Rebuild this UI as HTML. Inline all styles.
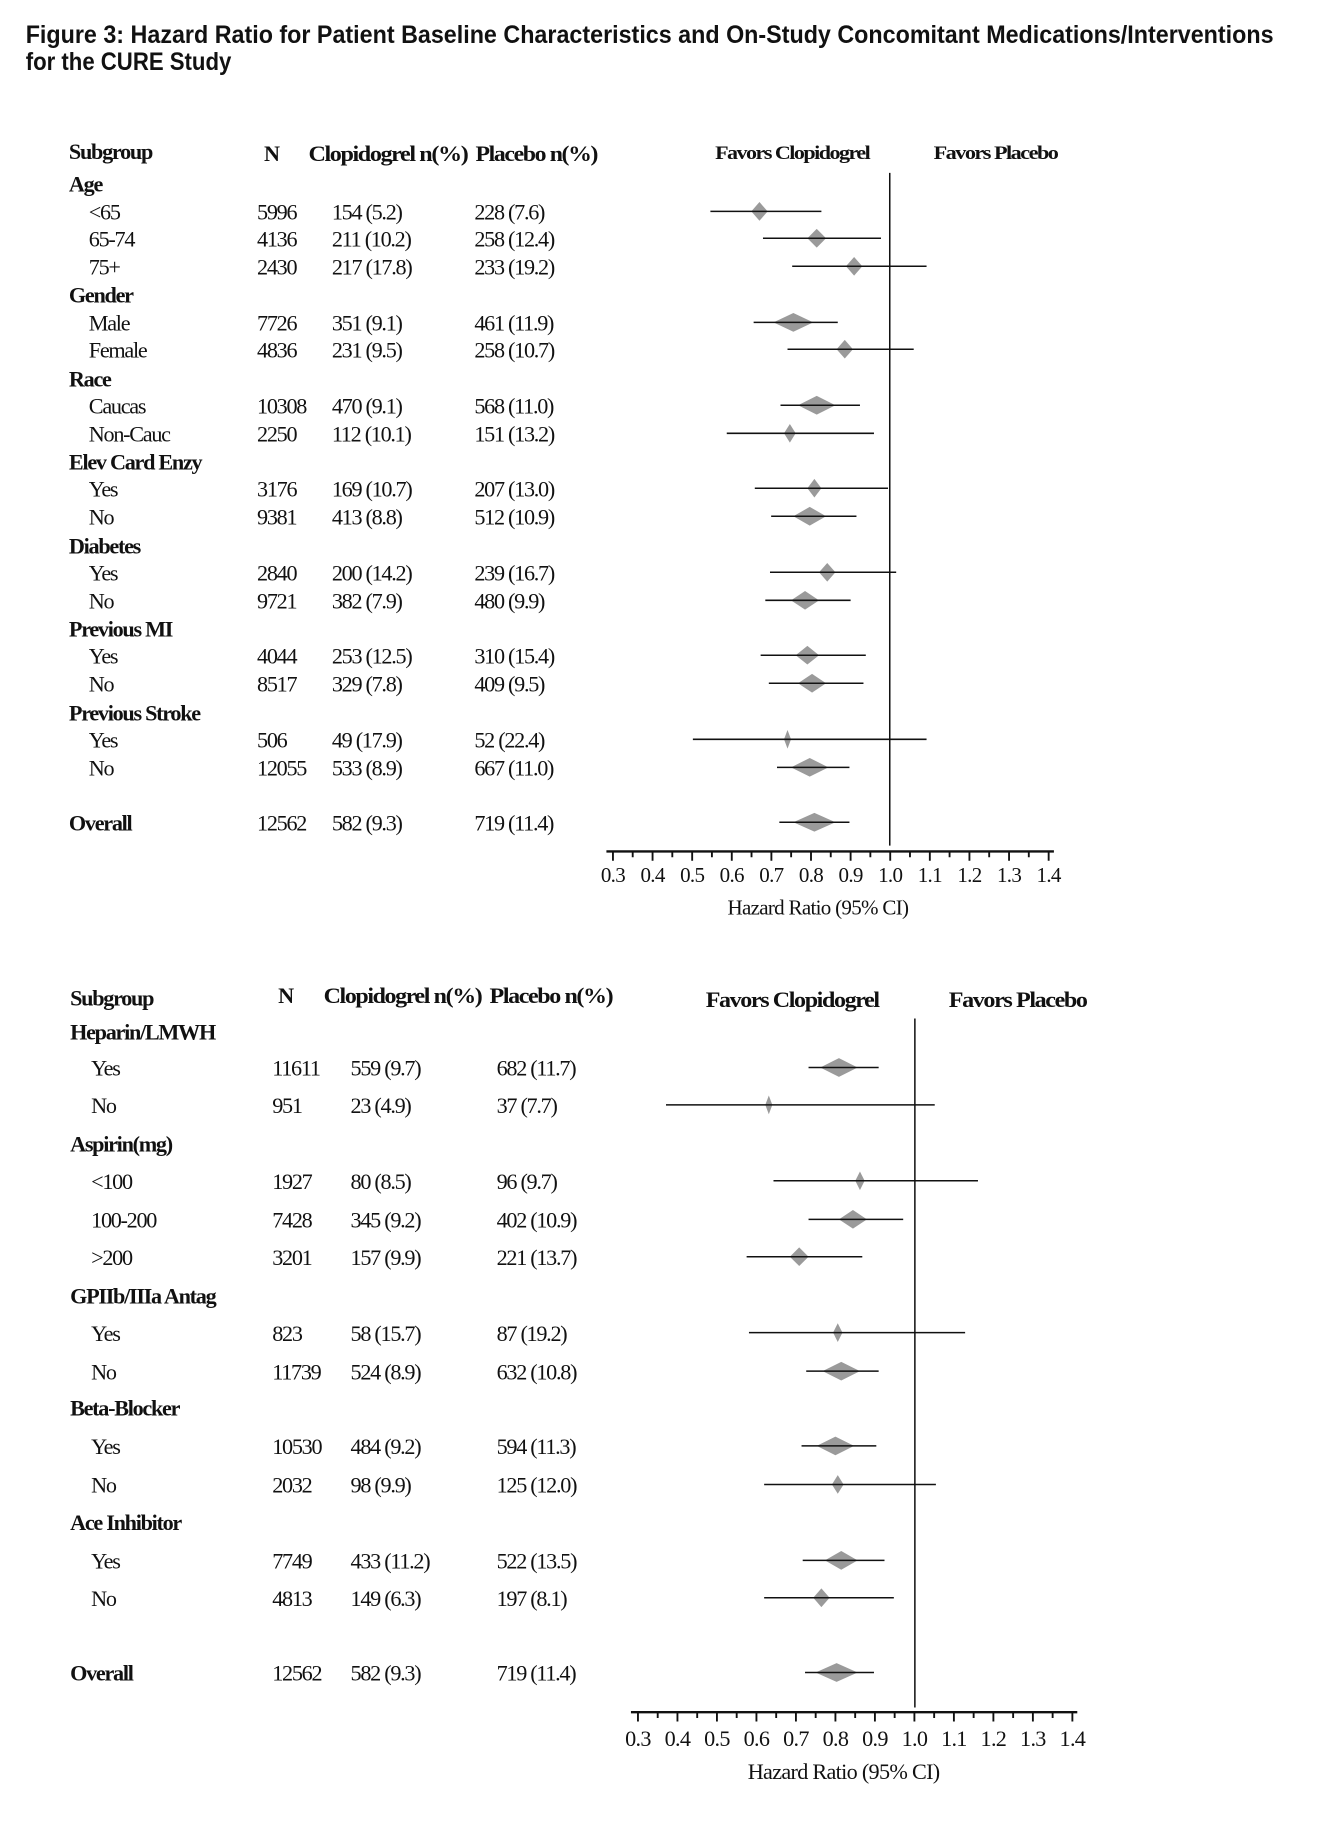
<!DOCTYPE html>
<html><head><meta charset="utf-8"><style>
html,body{margin:0;padding:0;background:#fff;width:1332px;height:1836px;overflow:hidden}
svg{display:block}
.t{font-family:"Liberation Serif",serif;font-size:19px;letter-spacing:-1.1px;fill:#111}
.b{font-weight:bold}
.ti{font-family:"Liberation Sans",sans-serif;font-weight:bold;font-size:21px;fill:#111}
.tk{font-family:"Liberation Serif",serif;font-size:18px;fill:#111;text-anchor:middle;letter-spacing:-0.6px}
.d{fill:#9a9a9a}
.l{stroke:#111;stroke-width:1.3}
</style></head><body>
<svg width="1332" height="1836" viewBox="0 0 1140 1572" preserveAspectRatio="none" xmlns="http://www.w3.org/2000/svg">
<text class="ti" x="22" y="37" textLength="1068" lengthAdjust="spacingAndGlyphs">Figure 3:  Hazard Ratio for Patient Baseline Characteristics and On-Study Concomitant Medications/Interventions</text>
<text class="ti" x="22" y="60" textLength="176" lengthAdjust="spacingAndGlyphs">for the CURE Study</text>

<!-- TOP PANEL -->
<g class="t">
<text class="b" x="59" y="136">Subgroup</text>
<text class="b" x="226" y="138">N</text>
<text class="b" x="264" y="138" textLength="136" lengthAdjust="spacingAndGlyphs">Clopidogrel n(%)</text>
<text class="b" x="407" y="138" textLength="104" lengthAdjust="spacingAndGlyphs">Placebo n(%)</text>
<text class="b" x="612" y="136" font-size="16" textLength="132" lengthAdjust="spacingAndGlyphs">Favors Clopidogrel</text>
<text class="b" x="799" y="136" font-size="16" textLength="106" lengthAdjust="spacingAndGlyphs">Favors Placebo</text>

<text class="b" x="59" y="164">Age</text>
<text x="76" y="188">&lt;65</text><text x="220" y="188">5996</text><text x="284" y="188">154 (5.2)</text><text x="406" y="188">228 (7.6)</text>
<text x="76" y="211">65-74</text><text x="220" y="211">4136</text><text x="284" y="211">211 (10.2)</text><text x="406" y="211">258 (12.4)</text>
<text x="76" y="235">75+</text><text x="220" y="235">2430</text><text x="284" y="235">217 (17.8)</text><text x="406" y="235">233 (19.2)</text>
<text class="b" x="59" y="259">Gender</text>
<text x="76" y="283">Male</text><text x="220" y="283">7726</text><text x="284" y="283">351 (9.1)</text><text x="406" y="283">461 (11.9)</text>
<text x="76" y="306">Female</text><text x="220" y="306">4836</text><text x="284" y="306">231 (9.5)</text><text x="406" y="306">258 (10.7)</text>
<text class="b" x="59" y="331">Race</text>
<text x="76" y="354">Caucas</text><text x="220" y="354">10308</text><text x="284" y="354">470 (9.1)</text><text x="406" y="354">568 (11.0)</text>
<text x="76" y="378">Non-Cauc</text><text x="220" y="378">2250</text><text x="284" y="378">112 (10.1)</text><text x="406" y="378">151 (13.2)</text>
<text class="b" x="59" y="402">Elev Card Enzy</text>
<text x="76" y="425">Yes</text><text x="220" y="425">3176</text><text x="284" y="425">169 (10.7)</text><text x="406" y="425">207 (13.0)</text>
<text x="76" y="449">No</text><text x="220" y="449">9381</text><text x="284" y="449">413 (8.8)</text><text x="406" y="449">512 (10.9)</text>
<text class="b" x="59" y="474">Diabetes</text>
<text x="76" y="497">Yes</text><text x="220" y="497">2840</text><text x="284" y="497">200 (14.2)</text><text x="406" y="497">239 (16.7)</text>
<text x="76" y="521">No</text><text x="220" y="521">9721</text><text x="284" y="521">382 (7.9)</text><text x="406" y="521">480 (9.9)</text>
<text class="b" x="59" y="545">Previous MI</text>
<text x="76" y="568">Yes</text><text x="220" y="568">4044</text><text x="284" y="568">253 (12.5)</text><text x="406" y="568">310 (15.4)</text>
<text x="76" y="592">No</text><text x="220" y="592">8517</text><text x="284" y="592">329 (7.8)</text><text x="406" y="592">409 (9.5)</text>
<text class="b" x="59" y="617">Previous Stroke</text>
<text x="76" y="640">Yes</text><text x="220" y="640">506</text><text x="284" y="640">49 (17.9)</text><text x="406" y="640">52 (22.4)</text>
<text x="76" y="664">No</text><text x="220" y="664">12055</text><text x="284" y="664">533 (8.9)</text><text x="406" y="664">667 (11.0)</text>
<text class="b" x="59" y="711">Overall</text><text x="220" y="711">12562</text><text x="284" y="711">582 (9.3)</text><text x="406" y="711">719 (11.4)</text>
</g>
<g>
<polygon class="d" points="643,181 650,173 657,181 650,189"/><line class="l" x1="608" y1="181" x2="703" y2="181"/>
<polygon class="d" points="691,204 699,196 707,204 699,212"/><line class="l" x1="653" y1="204" x2="754" y2="204"/>
<polygon class="d" points="724,228 731,220 738,228 731,236"/><line class="l" x1="678" y1="228" x2="793" y2="228"/>
<polygon class="d" points="662,276 679,268 696,276 679,284"/><line class="l" x1="645" y1="276" x2="717" y2="276"/>
<polygon class="d" points="716,299 723,291 730,299 723,307"/><line class="l" x1="674" y1="299" x2="782" y2="299"/>
<polygon class="d" points="683,347 699,339 715,347 699,355"/><line class="l" x1="668" y1="347" x2="736" y2="347"/>
<polygon class="d" points="671,371 676,363 681,371 676,379"/><line class="l" x1="622" y1="371" x2="748" y2="371"/>
<polygon class="d" points="691,418 697,410 703,418 697,426"/><line class="l" x1="646" y1="418" x2="760" y2="418"/>
<polygon class="d" points="679,442 693,434 707,442 693,450"/><line class="l" x1="660" y1="442" x2="733" y2="442"/>
<polygon class="d" points="701,490 708,482 715,490 708,498"/><line class="l" x1="659" y1="490" x2="767" y2="490"/>
<polygon class="d" points="677,514 689,506 701,514 689,522"/><line class="l" x1="655" y1="514" x2="728" y2="514"/>
<polygon class="d" points="681,561 691,553 701,561 691,569"/><line class="l" x1="651" y1="561" x2="741" y2="561"/>
<polygon class="d" points="683,585 695,577 707,585 695,593"/><line class="l" x1="658" y1="585" x2="739" y2="585"/>
<polygon class="d" points="671,633 674,625 677,633 674,641"/><line class="l" x1="593" y1="633" x2="793" y2="633"/>
<polygon class="d" points="677,657 693,649 709,657 693,665"/><line class="l" x1="665" y1="657" x2="727" y2="657"/>
<polygon class="d" points="679,704 697,696 715,704 697,712"/><line class="l" x1="667" y1="704" x2="727" y2="704"/>
<line x1="761.5" y1="148" x2="761.5" y2="724" stroke="#111" stroke-width="1.3"/>
<line x1="519" y1="729" x2="902" y2="729" stroke="#111" stroke-width="2"/>
<path stroke="#111" stroke-width="1.6" fill="none" d="M524.6 729v8M558.5 729v8M592.4 729v8M626.3 729v8M660.2 729v8M694.1 729v8M728 729v8M761.9 729v8M795.8 729v8M829.7 729v8M863.6 729v8M897.5 729v8M541.5 729v5M575.4 729v5M609.3 729v5M643.2 729v5M677.1 729v5M711 729v5M744.9 729v5M778.8 729v5M812.7 729v5M846.6 729v5M880.5 729v5"/>
<g class="tk">
<text x="524.6" y="755">0.3</text><text x="558.5" y="755">0.4</text><text x="592.4" y="755">0.5</text><text x="626.3" y="755">0.6</text><text x="660.2" y="755">0.7</text><text x="694.1" y="755">0.8</text><text x="728" y="755">0.9</text><text x="761.9" y="755">1.0</text><text x="795.8" y="755">1.1</text><text x="829.7" y="755">1.2</text><text x="863.6" y="755">1.3</text><text x="897.5" y="755">1.4</text>
<text x="700" y="783">Hazard Ratio (95% CI)</text>
</g>
</g>

<!-- BOTTOM PANEL -->
<g class="t">
<text class="b" x="60" y="861">Subgroup</text>
<text class="b" x="238" y="859">N</text>
<text class="b" x="277" y="859" textLength="135" lengthAdjust="spacingAndGlyphs">Clopidogrel n(%)</text>
<text class="b" x="419" y="859" textLength="105" lengthAdjust="spacingAndGlyphs">Placebo n(%)</text>
<text class="b" x="604" y="862" textLength="148" lengthAdjust="spacingAndGlyphs">Favors Clopidogrel</text>
<text class="b" x="812" y="862" textLength="118" lengthAdjust="spacingAndGlyphs">Favors Placebo</text>
<text class="b" x="60" y="890">Heparin/LMWH</text>
<text x="78" y="921">Yes</text><text x="233" y="921">11611</text><text x="300" y="921">559 (9.7)</text><text x="425" y="921">682 (11.7)</text>
<text x="78" y="953">No</text><text x="233" y="953">951</text><text x="300" y="953">23 (4.9)</text><text x="425" y="953">37 (7.7)</text>
<text class="b" x="60" y="986">Aspirin(mg)</text>
<text x="78" y="1018">&lt;100</text><text x="233" y="1018">1927</text><text x="300" y="1018">80 (8.5)</text><text x="425" y="1018">96 (9.7)</text>
<text x="78" y="1051">100-200</text><text x="233" y="1051">7428</text><text x="300" y="1051">345 (9.2)</text><text x="425" y="1051">402 (10.9)</text>
<text x="78" y="1083">&gt;200</text><text x="233" y="1083">3201</text><text x="300" y="1083">157 (9.9)</text><text x="425" y="1083">221 (13.7)</text>
<text class="b" x="60" y="1116">GPIIb/IIIa Antag</text>
<text x="78" y="1148">Yes</text><text x="233" y="1148">823</text><text x="300" y="1148">58 (15.7)</text><text x="425" y="1148">87 (19.2)</text>
<text x="78" y="1181">No</text><text x="233" y="1181">11739</text><text x="300" y="1181">524 (8.9)</text><text x="425" y="1181">632 (10.8)</text>
<text class="b" x="60" y="1212">Beta-Blocker</text>
<text x="78" y="1245">Yes</text><text x="233" y="1245">10530</text><text x="300" y="1245">484 (9.2)</text><text x="425" y="1245">594 (11.3)</text>
<text x="78" y="1278">No</text><text x="233" y="1278">2032</text><text x="300" y="1278">98 (9.9)</text><text x="425" y="1278">125 (12.0)</text>
<text class="b" x="60" y="1310">Ace Inhibitor</text>
<text x="78" y="1343">Yes</text><text x="233" y="1343">7749</text><text x="300" y="1343">433 (11.2)</text><text x="425" y="1343">522 (13.5)</text>
<text x="78" y="1375">No</text><text x="233" y="1375">4813</text><text x="300" y="1375">149 (6.3)</text><text x="425" y="1375">197 (8.1)</text>
<text class="b" x="60" y="1439">Overall</text><text x="233" y="1439">12562</text><text x="300" y="1439">582 (9.3)</text><text x="425" y="1439">719 (11.4)</text>
</g>
<g>
<polygon class="d" points="702,914 718,906 734,914 718,922"/><line class="l" x1="692" y1="914" x2="752" y2="914"/>
<polygon class="d" points="655,946 658,938 661,946 658,954"/><line class="l" x1="570" y1="946" x2="800" y2="946"/>
<polygon class="d" points="732,1011 736,1003 740,1011 736,1019"/><line class="l" x1="662" y1="1011" x2="837" y2="1011"/>
<polygon class="d" points="718,1044 730,1036 742,1044 730,1052"/><line class="l" x1="692" y1="1044" x2="773" y2="1044"/>
<polygon class="d" points="676,1076 684,1068 692,1076 684,1084"/><line class="l" x1="639" y1="1076" x2="738" y2="1076"/>
<polygon class="d" points="713,1141 717,1133 721,1141 717,1149"/><line class="l" x1="641" y1="1141" x2="826" y2="1141"/>
<polygon class="d" points="704,1174 720,1166 736,1174 720,1182"/><line class="l" x1="690" y1="1174" x2="752" y2="1174"/>
<polygon class="d" points="699,1238 715,1230 731,1238 715,1246"/><line class="l" x1="686" y1="1238" x2="750" y2="1238"/>
<polygon class="d" points="712,1271 717,1263 722,1271 717,1279"/><line class="l" x1="654" y1="1271" x2="801" y2="1271"/>
<polygon class="d" points="706,1336 720,1328 734,1336 720,1344"/><line class="l" x1="687" y1="1336" x2="757" y2="1336"/>
<polygon class="d" points="696,1368 703,1360 710,1368 703,1376"/><line class="l" x1="654" y1="1368" x2="765" y2="1368"/>
<polygon class="d" points="698,1432 716,1424 734,1432 716,1440"/><line class="l" x1="689" y1="1432" x2="748" y2="1432"/>
<line x1="783" y1="872" x2="783" y2="1462" stroke="#111" stroke-width="1.3"/>
<line x1="540" y1="1466" x2="922" y2="1466" stroke="#111" stroke-width="2"/>
<path stroke="#111" stroke-width="1.6" fill="none" d="M546 1466v8M579.8 1466v8M613.6 1466v8M647.4 1466v8M681.2 1466v8M715 1466v8M748.8 1466v8M782.6 1466v8M816.4 1466v8M850.2 1466v8M884 1466v8M917.8 1466v8M562.9 1466v5M596.7 1466v5M630.5 1466v5M664.3 1466v5M698.1 1466v5M731.9 1466v5M765.7 1466v5M799.5 1466v5M833.3 1466v5M867.1 1466v5M900.9 1466v5"/>
<g class="tk" style="font-size:19px">
<text x="546" y="1495">0.3</text><text x="579.8" y="1495">0.4</text><text x="613.6" y="1495">0.5</text><text x="647.4" y="1495">0.6</text><text x="681.2" y="1495">0.7</text><text x="715" y="1495">0.8</text><text x="748.8" y="1495">0.9</text><text x="782.6" y="1495">1.0</text><text x="816.4" y="1495">1.1</text><text x="850.2" y="1495">1.2</text><text x="884" y="1495">1.3</text><text x="917.8" y="1495">1.4</text>
<text x="722" y="1523">Hazard Ratio (95% CI)</text>
</g>
</g>
</svg>
</body></html>
